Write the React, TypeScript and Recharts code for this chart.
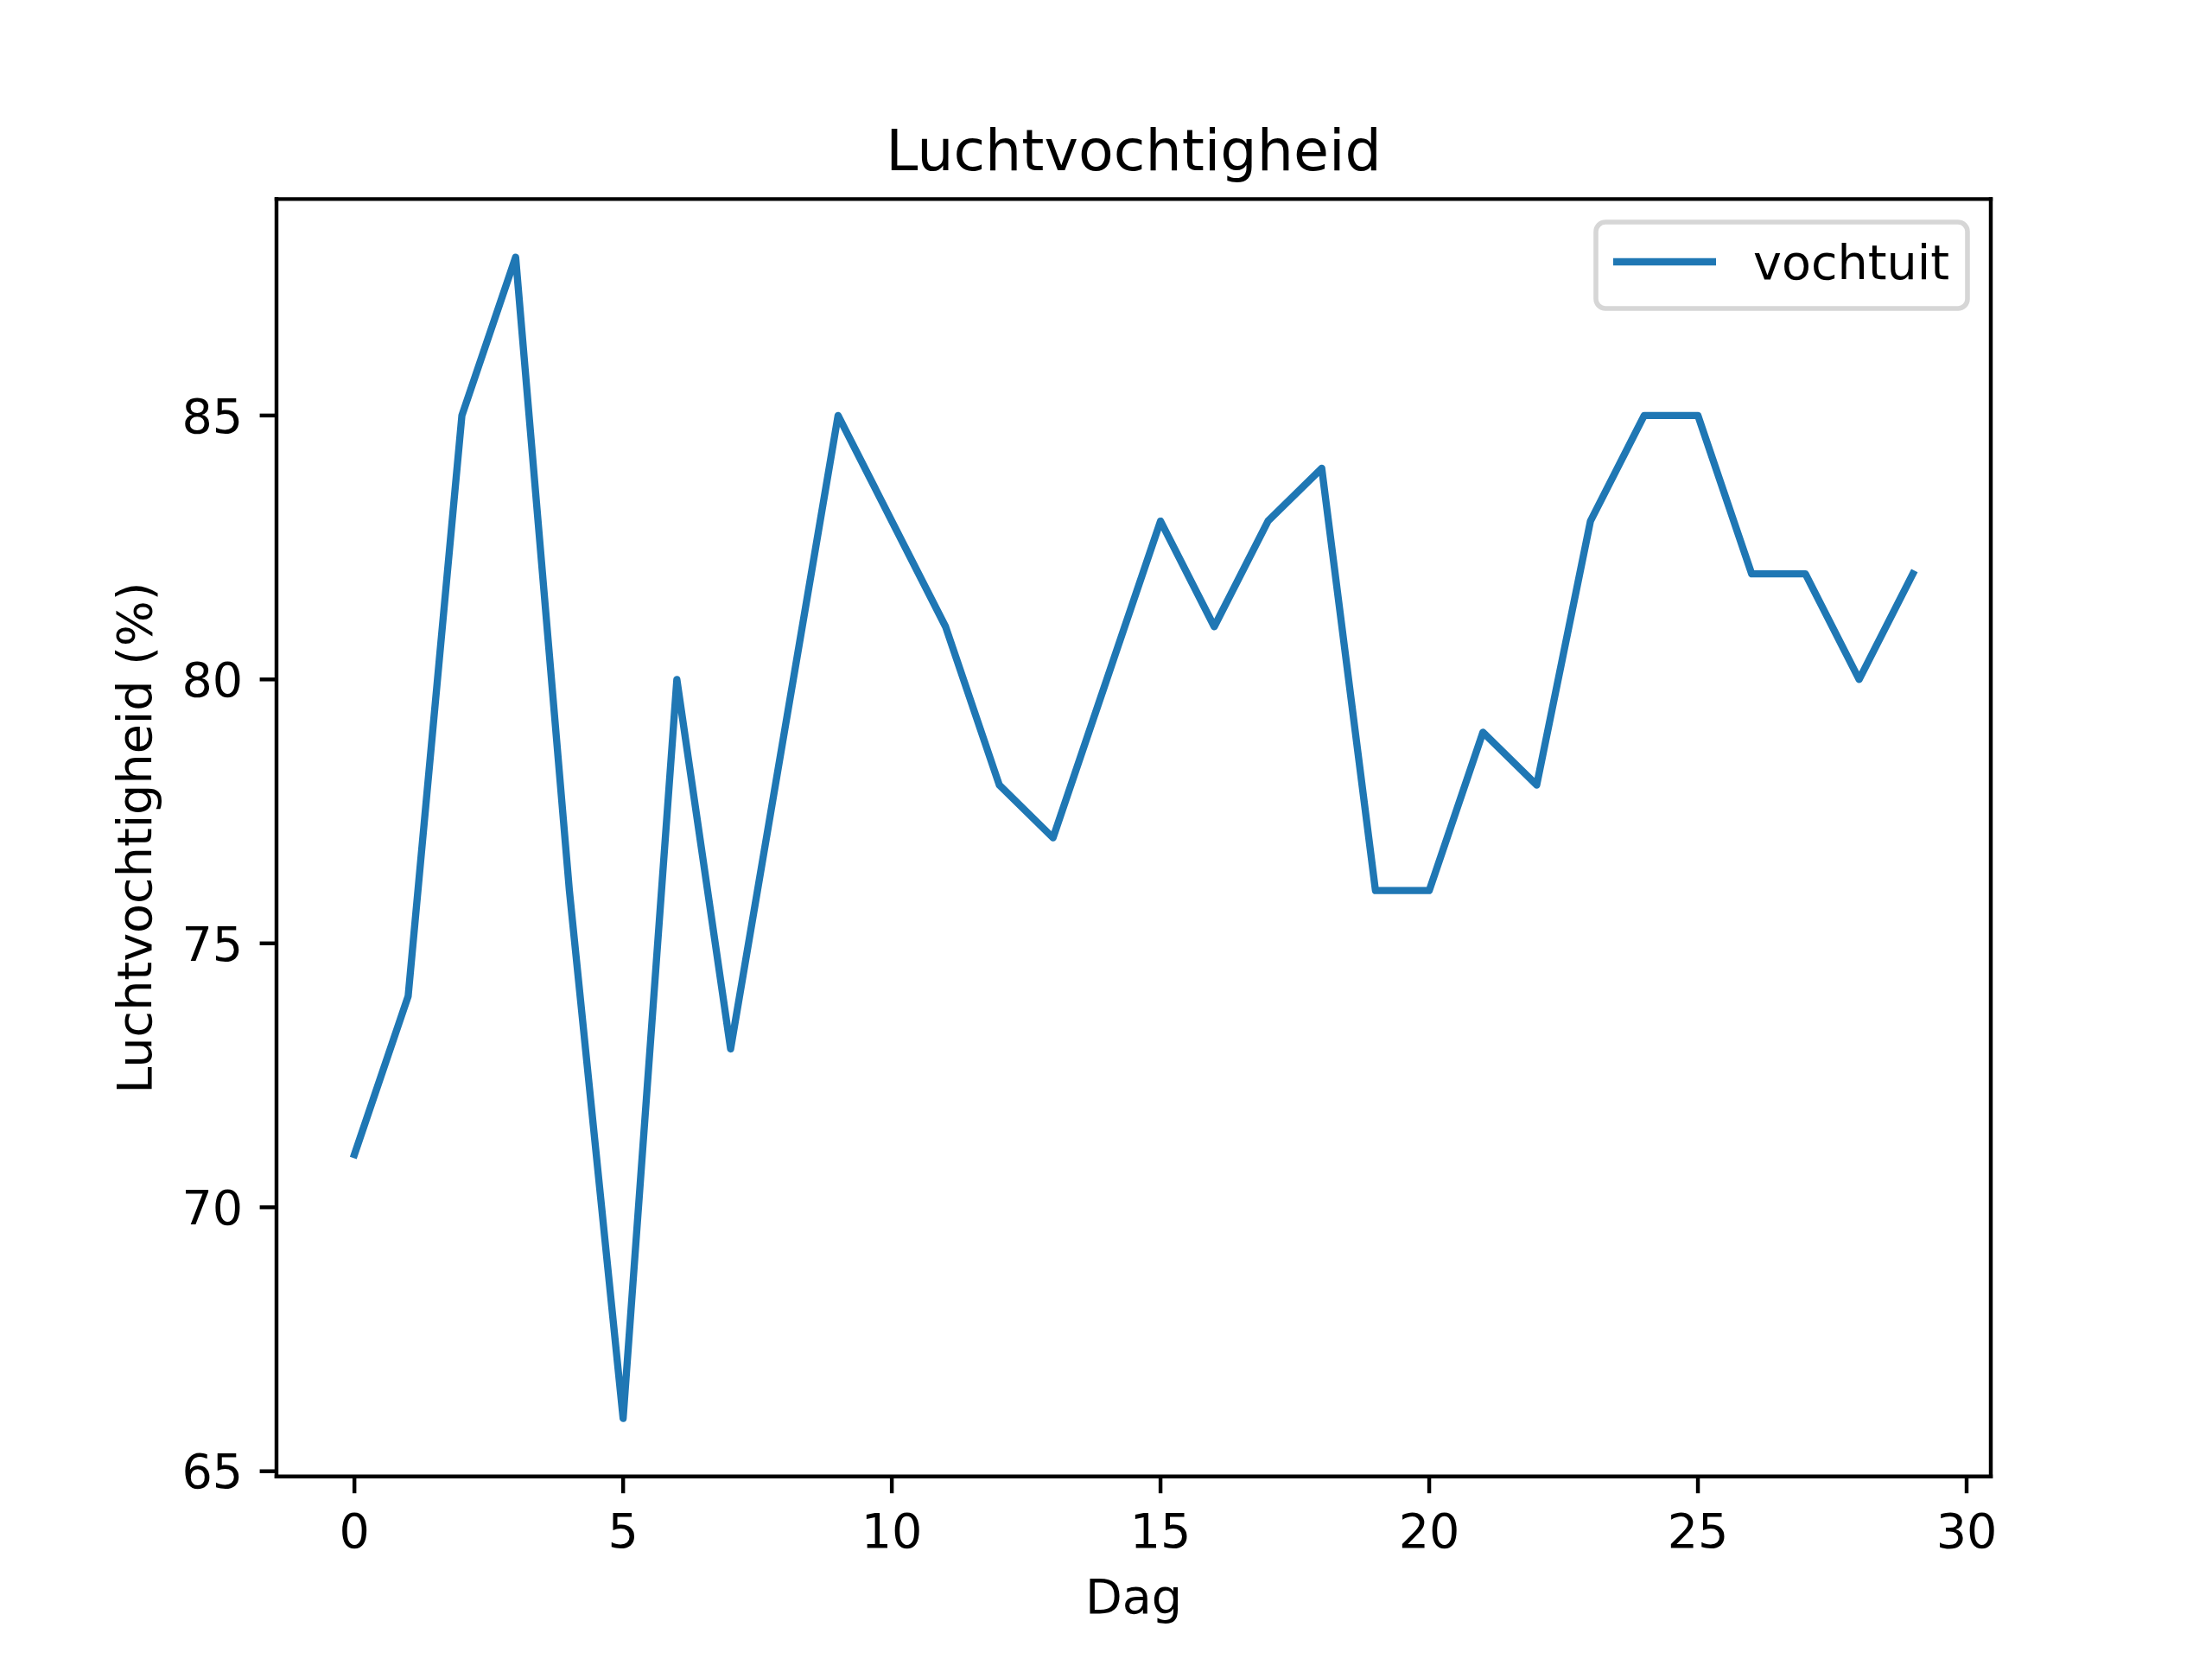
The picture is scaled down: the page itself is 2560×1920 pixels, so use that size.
import { LineChart, Line, XAxis, YAxis, Legend, ReferenceLine } from "recharts";

const days = [
  0, 1, 2, 3, 4, 5, 6, 7, 8, 9, 10, 11, 12, 13, 14, 15, 16, 17, 18, 19, 20, 21,
  22, 23, 24, 25, 26, 27, 28, 29
];
const vochtuit = [
  71, 74, 85, 88, 76, 66, 80, 73, 79, 85, 83, 81, 78, 77, 80, 83, 81, 83, 84, 76,
  76, 79, 78, 83, 85, 85, 82, 82, 80, 82
];
const xTicks = [0, 5, 10, 15, 20, 25, 30];
const yTicks = [65, 70, 75, 80, 85];
const xDomain = [-1.45, 30.45];
const yDomain = [64.9, 89.1];

const FONT = "'DejaVu Sans', sans-serif";
const FS = 55.6;
const SPINE = 4.44;
const BLUE = "#1f77b4";

const axisLine = { stroke: "#000", strokeWidth: SPINE, strokeLinecap: "square" as const };
const tickLine = { stroke: "#000", strokeWidth: SPINE };
const tickStyle = { fontFamily: FONT, fontSize: FS, fill: "#000" };

const LegendBox = (props: any) => {
  const label = props.payload && props.payload[0] ? props.payload[0].value : "vochtuit";
  return (
    <svg width={436} height={106} style={{ display: "block" }}>
      <rect
        x={3}
        y={3}
        width={430}
        height={100}
        rx={11}
        fill="rgba(255,255,255,0.8)"
        stroke="rgba(204,204,204,0.8)"
        strokeWidth={5.56}
      />
      <line x1={23} y1={49} x2={142} y2={49} stroke={BLUE} strokeWidth={8.33} />
      <text x={185} y={69} fontFamily={FONT} fontSize={FS} fill="#000">
        {label}
      </text>
    </svg>
  );
};

const App = () => {
  const data = days.map((d, i) => ({ dag: d, vochtuit: vochtuit[i] }));

  return (
    <div style={{ position: "absolute", left: 0, top: 0, width: 2560, height: 1920, background: "#fff" }}>
      <LineChart
        width={2560}
        height={1920}
        data={data}
        margin={{ top: 230.4, right: 256, bottom: 0, left: 0 }}
      >
        <XAxis
          dataKey="dag"
          type="number"
          domain={xDomain}
          ticks={xTicks}
          allowDataOverflow
          height={211.2}
          axisLine={axisLine}
          tickLine={tickLine}
          tickSize={19.4}
          tickMargin={23}
          tick={tickStyle}
        />
        <YAxis
          type="number"
          domain={yDomain}
          ticks={yTicks}
          allowDataOverflow
          width={320}
          axisLine={axisLine}
          tickLine={tickLine}
          tickSize={19.4}
          tickMargin={19.4}
          tick={tickStyle}
        />
        {/* top and right spines */}
        <ReferenceLine
          y={yDomain[1]}
          stroke="#000"
          strokeWidth={SPINE}
          strokeLinecap="square"
          ifOverflow="visible"
        />
        <ReferenceLine
          x={xDomain[1]}
          stroke="#000"
          strokeWidth={SPINE}
          strokeLinecap="square"
          ifOverflow="visible"
        />
        <Legend
          layout="horizontal"
          verticalAlign="middle"
          align="center"
          content={<LegendBox />}
          wrapperStyle={{ position: "absolute", left: 1844, top: 254, width: 436, height: 106 }}
        />
        <Line
          type="linear"
          dataKey="vochtuit"
          name="vochtuit"
          stroke={BLUE}
          strokeWidth={8.33}
          strokeLinejoin="round"
          strokeLinecap="square"
          dot={false}
          activeDot={false}
          isAnimationActive={false}
        />
      </LineChart>
      <svg
        width={2560}
        height={1920}
        style={{ position: "absolute", left: 0, top: 0, pointerEvents: "none" }}
      >
        <text x={1312} y={197} textAnchor="middle" fontFamily={FONT} fontSize={66.7} fill="#000">
          Luchtvochtigheid
        </text>
        <text x={1312} y={1867} textAnchor="middle" fontFamily={FONT} fontSize={FS} fill="#000">
          Dag
        </text>
        <text
          x={175}
          y={969.6}
          textAnchor="middle"
          fontFamily={FONT}
          fontSize={FS}
          fill="#000"
          transform="rotate(-90 175 969.6)"
        >
          Luchtvochtigheid (%)
        </text>
      </svg>
    </div>
  );
};

export default App;
